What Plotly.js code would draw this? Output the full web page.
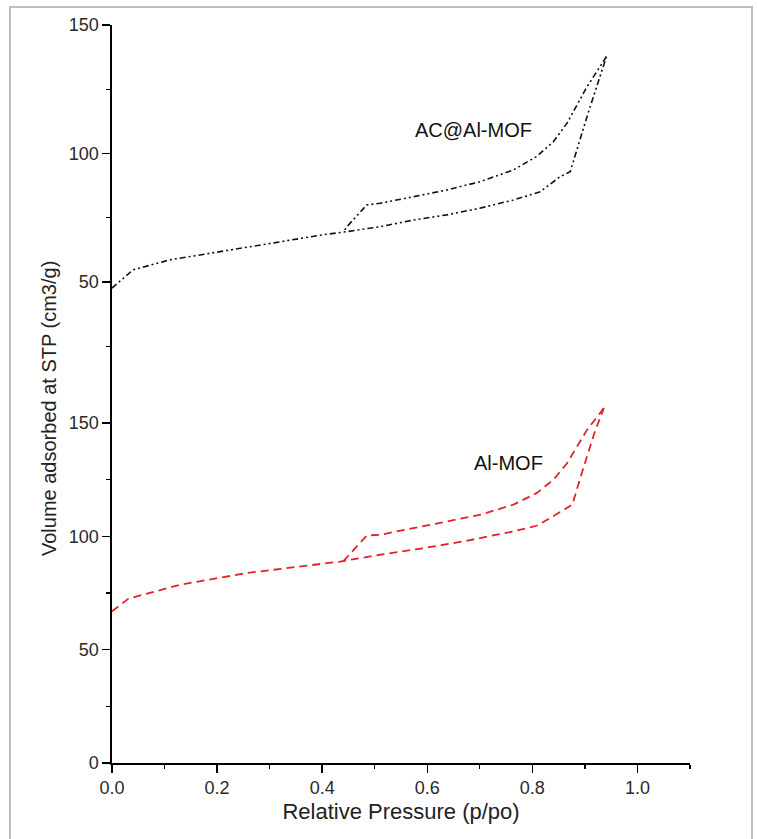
<!DOCTYPE html>
<html>
<head>
<meta charset="utf-8">
<script src="https://cdn.plot.ly/plotly-3.0.1.min.js"></script>
<style>html,body{margin:0;padding:0;background:#fff;}#chart{width:757px;height:839px;}</style>
</head>
<body>
<div id="chart"></div>
<script>
// AC@Al-MOF (top panel)
var acAdsX = [0, 0.04, 0.11, 0.2, 0.276, 0.35, 0.4, 0.447, 0.51, 0.574, 0.637, 0.70, 0.764, 0.815, 0.853, 0.872, 0.905, 0.941];
var acAdsY = [47.6, 54.7, 58.6, 61.6, 64.4, 66.6, 68.3, 69.6, 71.5, 74.1, 76.1, 78.7, 81.9, 85.1, 91.0, 92.9, 115.0, 137.7];
var acDesX = [0.941, 0.904, 0.866, 0.84, 0.808, 0.764, 0.70, 0.637, 0.574, 0.51, 0.485, 0.447, 0.44];
var acDesY = [137.7, 126.0, 111.8, 104.6, 98.8, 93.6, 89.0, 85.8, 83.2, 80.6, 80.0, 71.5, 69.4];
// Al-MOF (bottom panel)
var alAdsX = [0, 0.031, 0.13, 0.256, 0.434, 0.51, 0.593, 0.669, 0.764, 0.808, 0.834, 0.876, 0.892, 0.918, 0.936];
var alAdsY = [66.9, 72.5, 78.7, 83.8, 88.9, 91.9, 94.8, 97.8, 102.2, 104.7, 108.1, 114.0, 126.4, 145.6, 156.6];
var alDesX = [0.936, 0.904, 0.866, 0.84, 0.808, 0.764, 0.70, 0.637, 0.574, 0.51, 0.485, 0.44, 0.434];
var alDesY = [156.6, 147.0, 132.3, 125.0, 119.1, 114.0, 109.5, 106.6, 103.7, 100.7, 100.4, 89.0, 88.9];
var labels = ["AC@Al-MOF", "Al-MOF"];
var xTitle = "Relative Pressure (p/po)";
var yTitle = "Volume adsorbed at STP (cm3/g)";

var blackDash = "6px,3px,2px,3px,2px,3px";
var redCol = "#e0232c";
var traces = [
  {x: acAdsX, y: acAdsY, xaxis: "x", yaxis: "y2", mode: "lines", line: {color: "#111", width: 1.6, dash: blackDash}},
  {x: acDesX, y: acDesY, xaxis: "x", yaxis: "y2", mode: "lines", line: {color: "#111", width: 1.6, dash: blackDash}},
  {x: alAdsX, y: alAdsY, xaxis: "x", yaxis: "y", mode: "lines", line: {color: redCol, width: 1.8, dash: "8px,5px"}},
  {x: alDesX, y: alDesY, xaxis: "x", yaxis: "y", mode: "lines", line: {color: redCol, width: 1.8, dash: "8px,5px"}}
];
var fontFam = "Liberation Sans, Arial, sans-serif";
var split = 368 / 738;
function yAxis(domain, range) {
  return {
    domain: domain, range: range, anchor: "x",
    showline: true, linecolor: "#000", linewidth: 1.6,
    ticks: "outside", ticklen: 8, tickwidth: 1.5, tickcolor: "#000",
    showgrid: false, zeroline: false,
    tickmode: "linear", tick0: 0, dtick: 50,
    tickfont: {family: fontFam, size: 18, color: "#2a2a2a"},
    minor: {dtick: 25, ticks: "outside", ticklen: 4, tickwidth: 1.3, tickcolor: "#000"}
  };
}
var layout = {
  width: 757, height: 839,
  margin: {l: 112, r: 67, t: 25, b: 76},
  paper_bgcolor: "#fff", plot_bgcolor: "#fff",
  font: {family: fontFam, size: 17, color: "#2a2a2a"},
  showlegend: false,
  xaxis: {
    range: [0, 1.1], anchor: "y",
    showline: true, linecolor: "#000", linewidth: 1.6,
    ticks: "outside", ticklen: 8, tickwidth: 1.5, tickcolor: "#000",
    showgrid: false, zeroline: false,
    tickmode: "linear", tick0: 0, dtick: 0.2, tickformat: ".1f",
    tickfont: {family: fontFam, size: 18, color: "#2a2a2a"},
    minor: {dtick: 0.1, ticks: "outside", ticklen: 4, tickwidth: 1.3, tickcolor: "#000"},
    title: {text: xTitle, font: {family: fontFam, size: 22, color: "#222"}, standoff: 6}
  },
  yaxis: yAxis([0, split], [0, 162.4]),
  yaxis2: yAxis([split, 1], [6, 150.01]),
  annotations: [
    {text: labels[0], xref: "x", yref: "y2", x: 0.688, y: 109.1, showarrow: false, font: {family: fontFam, size: 20, color: "#111"}},
    {text: labels[1], xref: "x", yref: "y", x: 0.754, y: 132.5, showarrow: false, font: {family: fontFam, size: 20, color: "#111"}},
    {text: yTitle, xref: "paper", yref: "paper", x: -0.109, y: 0.481, xanchor: "center", yanchor: "middle", textangle: -90, showarrow: false,
      font: {family: fontFam, size: 20, color: "#222"}}
  ],
  shapes: [
    {type: "rect", xref: "paper", yref: "paper", x0: -0.1765, x1: 1.1073, y0: -0.12, y1: 1.0244,
      line: {color: "#bdbdbd", width: 2}, fillcolor: "rgba(0,0,0,0)", layer: "below"}
  ]
};
Plotly.newPlot("chart", traces, layout, {staticPlot: true, displayModeBar: false});
</script>
</body>
</html>
